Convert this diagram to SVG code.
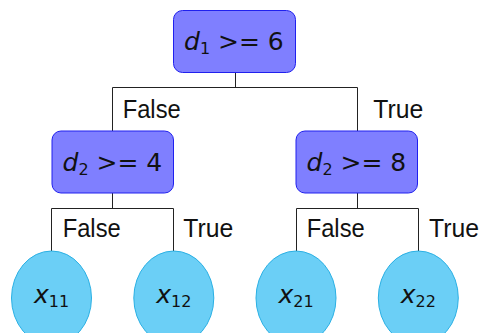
<svg xmlns="http://www.w3.org/2000/svg" width="488" height="333" viewBox="0 0 488 333">
<defs>
<style>
.dec rect{fill:#7f7fff;stroke:#2020ee;stroke-width:1}
.leaf ellipse{fill:#6bcff6;stroke:#2ab0e4;stroke-width:1}
.math{font-family:"DejaVu Sans",sans-serif;font-size:25px;fill:#111}
.it{font-style:italic}
.sub{font-size:16px}
.lbl{font-family:"Liberation Sans",Arial,sans-serif;font-size:26px;fill:#111}
#connectors path{fill:none;stroke:#222;stroke-width:1}
</style>
</defs>
<rect width="488" height="333" fill="#fff"/>
<g id="connectors">
<path d="M235.5 72.5V87.5M112.5 87.5H357.5M112.5 87.5V131M357.5 87.5V131"/>
<path d="M112.5 193V208.5M51.5 208.5H173.5M51.5 208.5V251M173.5 208.5V251"/>
<path d="M357.5 193V208.5M296.5 208.5H418.5M296.5 208.5V251M418.5 208.5V251"/>
</g>
<g id="labels">
<text class="lbl" x="122.7" y="117.7" textLength="58" lengthAdjust="spacingAndGlyphs">False</text>
<text class="lbl" x="373.3" y="117.7" textLength="50" lengthAdjust="spacingAndGlyphs">True</text>
<text class="lbl" x="62.7" y="237.3" textLength="58" lengthAdjust="spacingAndGlyphs">False</text>
<text class="lbl" x="183.3" y="237.3" textLength="50" lengthAdjust="spacingAndGlyphs">True</text>
<text class="lbl" x="306.7" y="237.3" textLength="58" lengthAdjust="spacingAndGlyphs">False</text>
<text class="lbl" x="429" y="237.3" textLength="50" lengthAdjust="spacingAndGlyphs">True</text>
</g>
<g id="root" class="dec">
<rect x="173.5" y="10.5" width="122" height="62" rx="9"/>
<text class="math" x="184" y="50"><tspan class="it">d</tspan><tspan class="sub" dy="3.5">1</tspan><tspan dy="-3.5"> &gt;= 6</tspan></text>
</g>
<g id="n_left" class="dec">
<rect x="52" y="131" width="121.5" height="62" rx="9"/>
<text class="math" x="62.5" y="171"><tspan class="it">d</tspan><tspan class="sub" dy="3.5">2</tspan><tspan dy="-3.5"> &gt;= 4</tspan></text>
</g>
<g id="n_right" class="dec">
<rect x="296" y="131" width="121.5" height="62" rx="9"/>
<text class="math" x="306.5" y="171"><tspan class="it">d</tspan><tspan class="sub" dy="3.5">2</tspan><tspan dy="-3.5"> &gt;= 8</tspan></text>
</g>
<g id="x11" class="leaf">
<ellipse cx="51.5" cy="298" rx="40" ry="47"/>
<text class="math" x="51.5" y="303.3" text-anchor="middle"><tspan class="it">x</tspan><tspan class="sub" dy="3.5">11</tspan></text>
</g>
<g id="x12" class="leaf">
<ellipse cx="173.8" cy="298" rx="40" ry="47"/>
<text class="math" x="173.8" y="303.3" text-anchor="middle"><tspan class="it">x</tspan><tspan class="sub" dy="3.5">12</tspan></text>
</g>
<g id="x21" class="leaf">
<ellipse cx="296" cy="298" rx="40" ry="47"/>
<text class="math" x="296" y="303.3" text-anchor="middle"><tspan class="it">x</tspan><tspan class="sub" dy="3.5">21</tspan></text>
</g>
<g id="x22" class="leaf">
<ellipse cx="418.3" cy="298" rx="40" ry="47"/>
<text class="math" x="418.3" y="303.3" text-anchor="middle"><tspan class="it">x</tspan><tspan class="sub" dy="3.5">22</tspan></text>
</g>
</svg>
